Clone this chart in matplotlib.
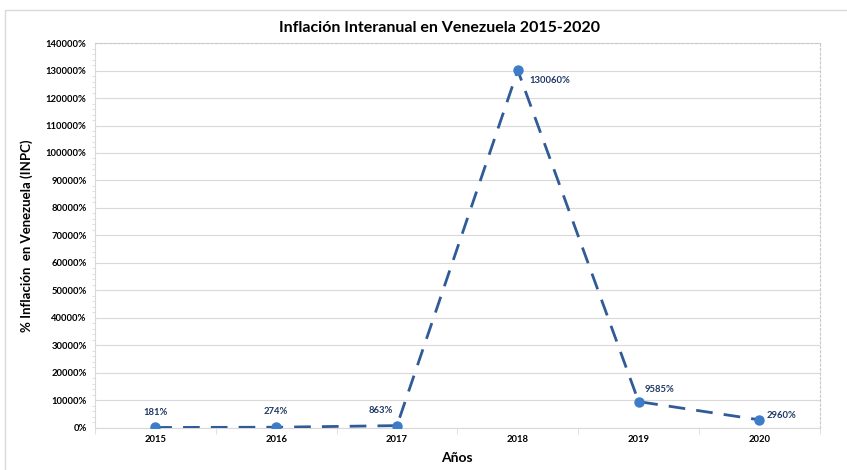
import matplotlib.pyplot as plt
from matplotlib.patches import Rectangle
from matplotlib.ticker import MultipleLocator, FuncFormatter

years = ["2015", "2016", "2017", "2018", "2019", "2020"]
inflation = [181, 274, 863, 130060, 9585, 2960]
label_offsets = [(0, 11), (0, 11), (-3, 11), (8, -7), (4, 9), (5, 3)]
label_align = ["center", "center", "right", "left", "left", "left"]

plt.rcParams['font.family'] = ['Lato', 'DejaVu Sans']

fig = plt.figure(figsize=(8.47, 4.70), dpi=100)
ax = fig.add_axes([0.112, 0.0894, 0.856, 0.8191])

# chart outer border (only top/left visible in the source)
fig.patches.append(Rectangle((5 / 847, -0.1), 1.2, 1 - 10 / 470 + 0.1, transform=fig.transFigure,
                             fill=False, edgecolor="#d9d9d9", linewidth=1))

x = list(range(len(years)))
ax.plot(x, inflation, linestyle=(0, (6, 4)), color="#2f5b97", linewidth=2, zorder=3)
ax.plot(x, inflation, linestyle="none", marker="o", markersize=6.5, color="#3d7cc9", zorder=4)

for i, v in enumerate(inflation):
    ax.annotate("%d%%" % v, xy=(i, v), xytext=label_offsets[i], textcoords="offset points",
                ha=label_align[i], va="center", fontsize=6.8, fontweight="bold", color="#1f3864")

ax.set_xlim(-0.5, len(years) - 0.5)
ax.set_ylim(0, 140000)
ax.yaxis.set_major_locator(MultipleLocator(10000))
ax.yaxis.set_minor_locator(MultipleLocator(2000))
ax.yaxis.set_major_formatter(FuncFormatter(lambda v, p: "%d%%" % v))
ax.set_xticks(x)
ax.set_xticklabels(years)
ax.set_xticks([i + 0.5 for i in range(-1, len(years))], minor=True)

ax.tick_params(axis="y", which="major", length=0, labelsize=6.8, pad=6)
ax.tick_params(axis="y", which="minor", length=2, color="#d9d9d9")
ax.tick_params(axis="x", which="major", length=0, labelsize=6.8, pad=5)
ax.tick_params(axis="x", which="minor", length=4, color="#d9d9d9")
for lab in ax.get_xticklabels() + ax.get_yticklabels():
    lab.set_fontweight("bold")

ax.grid(axis="y", color="#d9d9d9", linewidth=0.8)
ax.set_axisbelow(True)
for s in ["top", "right"]:
    ax.spines[s].set_linestyle((0, (2, 2)))
    ax.spines[s].set_color("#c8c8c8")
    ax.spines[s].set_linewidth(0.8)
ax.spines["left"].set_color("#d9d9d9")
ax.spines["bottom"].set_color("#d9d9d9")

fig.text(0.519, 0.94, "Inflación Interanual en Venezuela 2015-2020", ha="center", va="center",
         fontsize=11.5, fontweight="bold")
ax.set_xlabel("Años", fontsize=10, fontweight="bold", labelpad=6)
ax.set_ylabel("% Inflación  en Venezuela (INPC)", fontsize=9.5, fontweight="bold", labelpad=9)

fig.savefig("out.png", dpi=100)
